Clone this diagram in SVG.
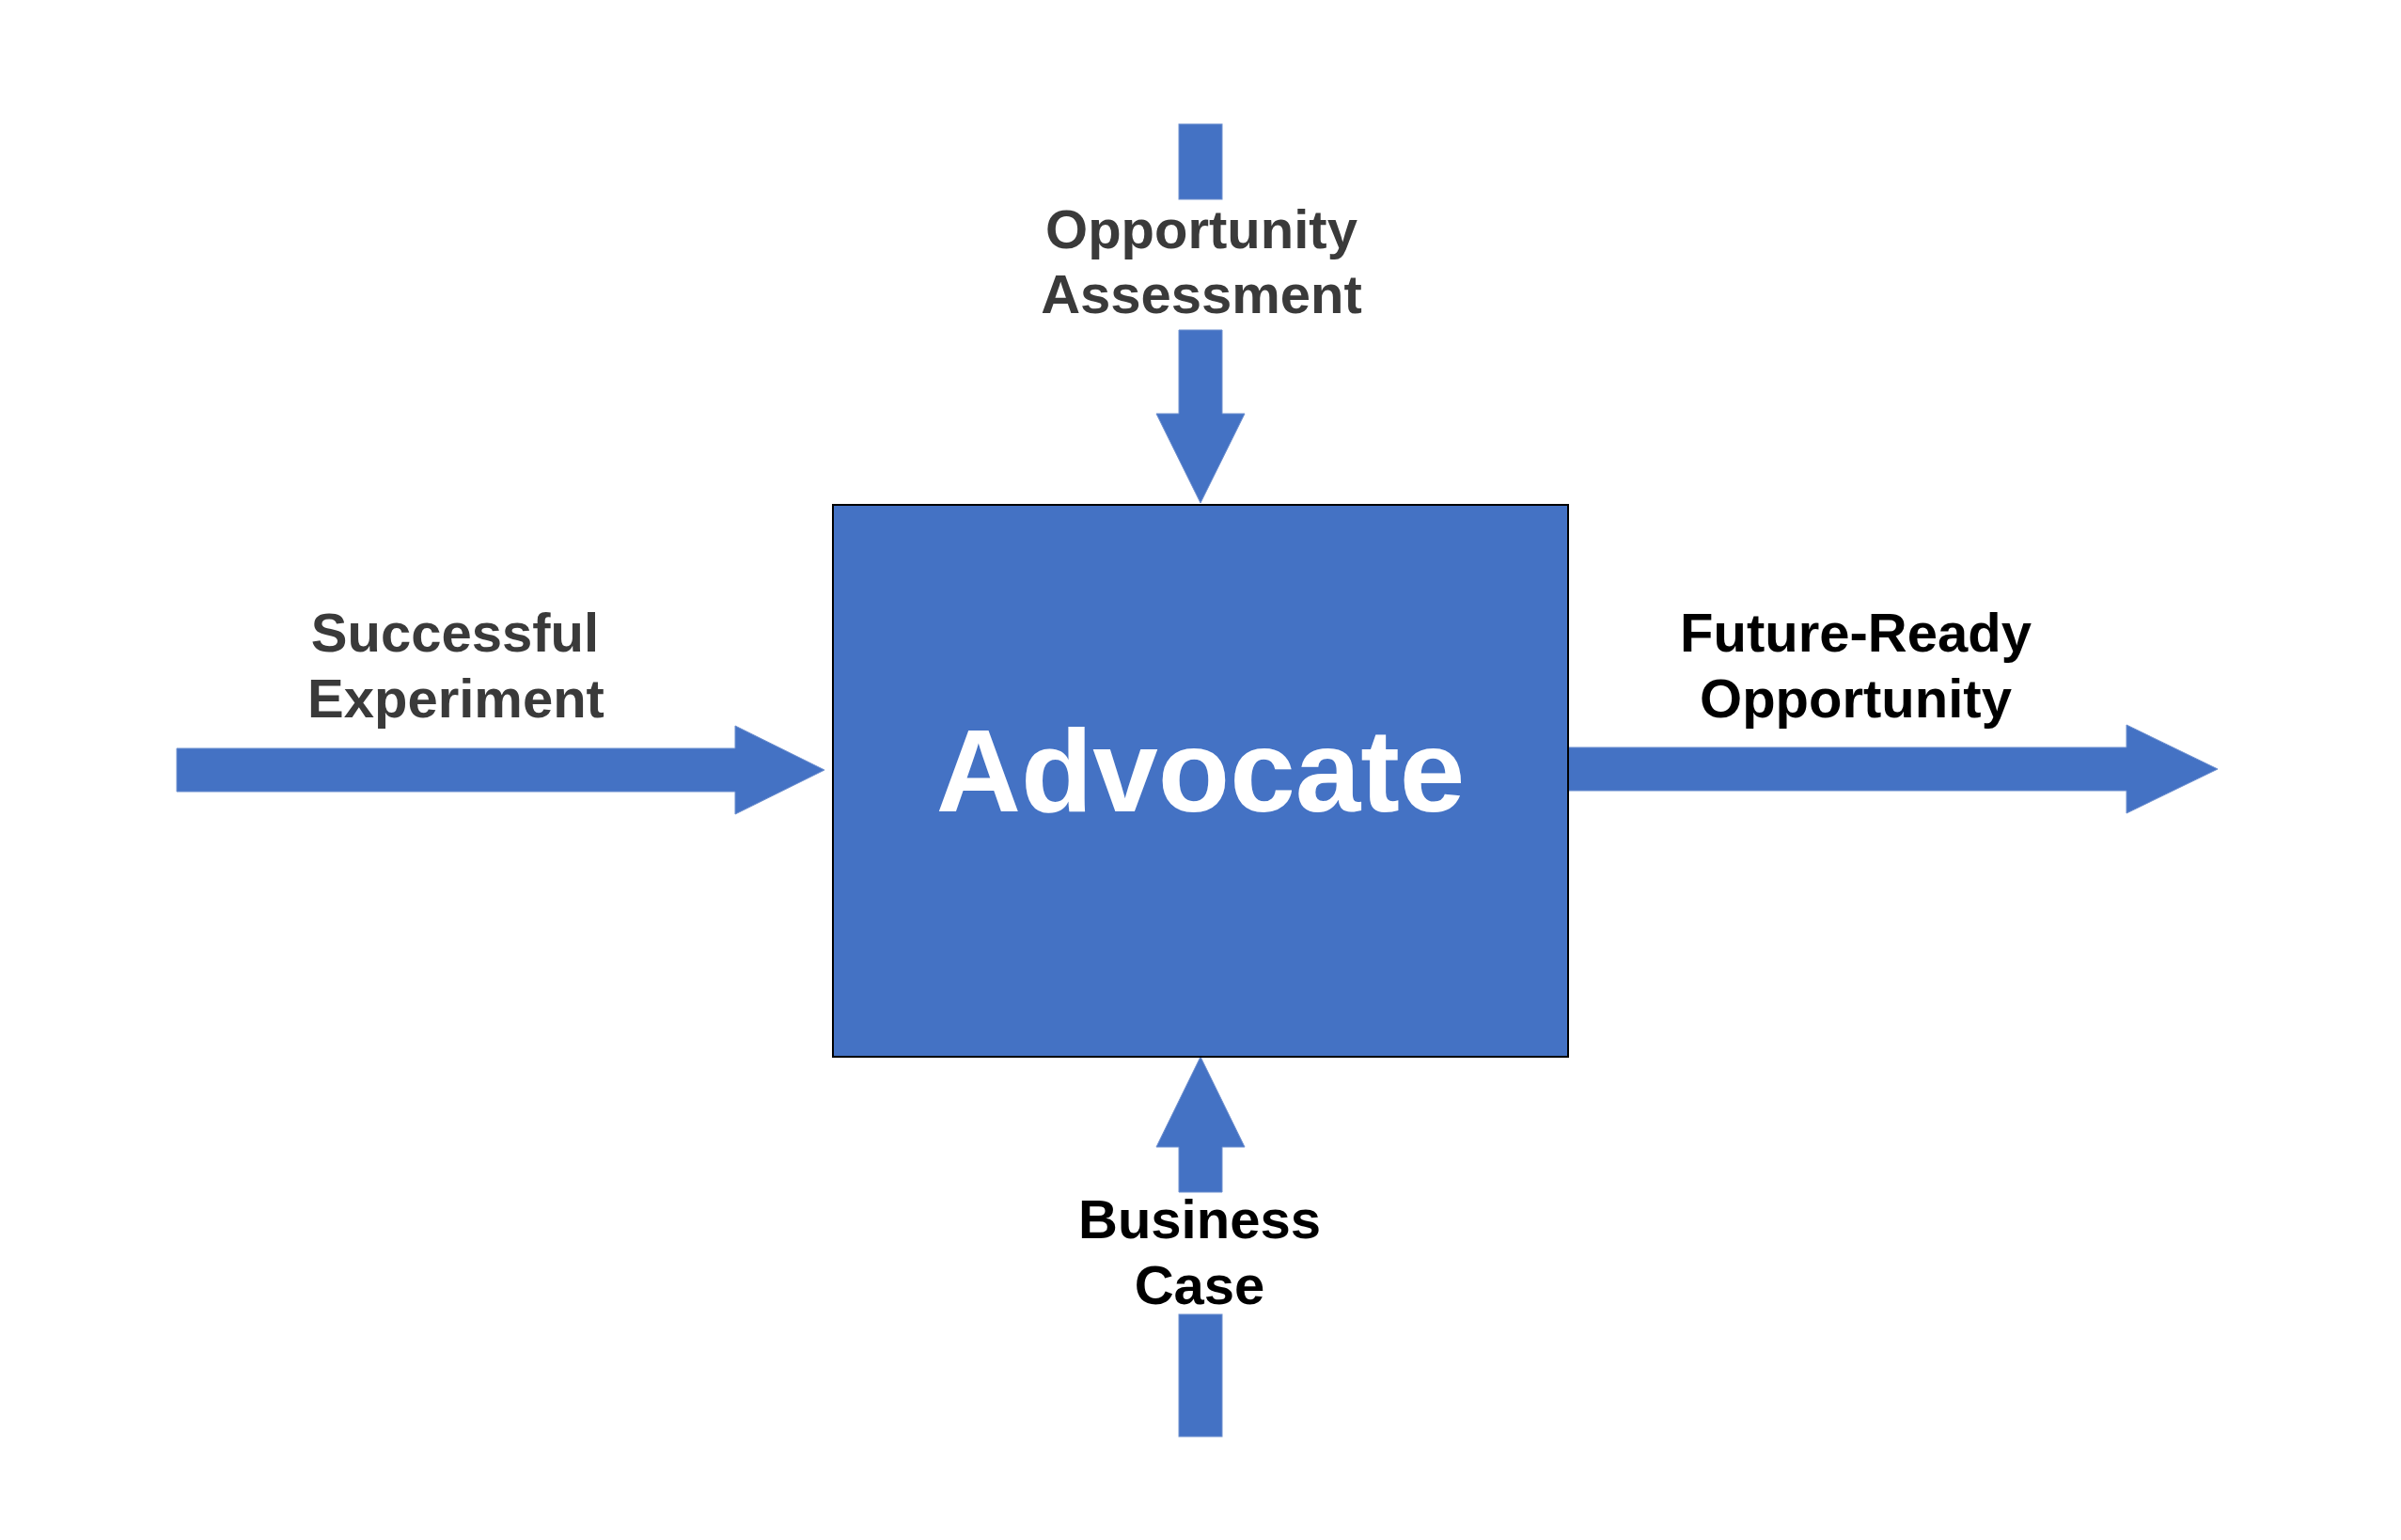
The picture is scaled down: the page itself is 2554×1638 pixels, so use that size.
<svg xmlns="http://www.w3.org/2000/svg" width="2554" height="1638" viewBox="0 0 2554 1638">
<style>
.arr{fill:#4472C4;stroke:#6d8fcf;stroke-width:1}
.lbl{font-family:"Liberation Sans",Arial,sans-serif;font-weight:bold;font-size:58px;text-anchor:middle}
.gray{fill:#3a3a3a}
.blk{fill:#000000}
</style>
<rect width="2554" height="1638" fill="#ffffff"/>
<g id="connectors">
  <g id="arrow-top">
    <rect class="arr" x="1254" y="132" width="46" height="80"/>
    <polygon class="arr" points="1254,351 1300,351 1300,440 1324,440 1277,535 1230,440 1254,440"/>
  </g>
  <g id="arrow-left">
    <polygon class="arr" points="188,796 782,796 782,772 877,819 782,866 782,842 188,842"/>
  </g>
  <g id="arrow-right">
    <polygon class="arr" points="1668,795 2262,795 2262,771 2359,818 2262,865 2262,841 1668,841"/>
  </g>
  <g id="arrow-bottom">
    <polygon class="arr" points="1277,1124 1324,1220 1300,1220 1300,1268 1254,1268 1254,1220 1230,1220"/>
    <rect class="arr" x="1254" y="1398" width="46" height="130"/>
  </g>
</g>
<g id="node-advocate">
  <rect x="886" y="537" width="782" height="587" fill="#4472C4" stroke="#000000" stroke-width="2"/>
  <text x="1277" y="863" font-family="Liberation Sans, Arial, sans-serif" font-weight="bold" font-size="125" fill="#ffffff" text-anchor="middle">Advocate</text>
</g>
<g id="label-top">
  <text class="lbl gray" x="1278" y="264">Opportunity</text>
  <text class="lbl gray" x="1278" y="333">Assessment</text>
</g>
<g id="label-left">
  <text class="lbl gray" x="484" y="693">Successful</text>
  <text class="lbl gray" x="485" y="763">Experiment</text>
</g>
<g id="label-right">
  <text class="lbl blk" x="1974" y="693">Future-Ready</text>
  <text class="lbl blk" x="1974" y="763">Opportunity</text>
</g>
<g id="label-bottom">
  <text class="lbl blk" x="1276" y="1317">Business</text>
  <text class="lbl blk" x="1276" y="1387">Case</text>
</g>
</svg>
